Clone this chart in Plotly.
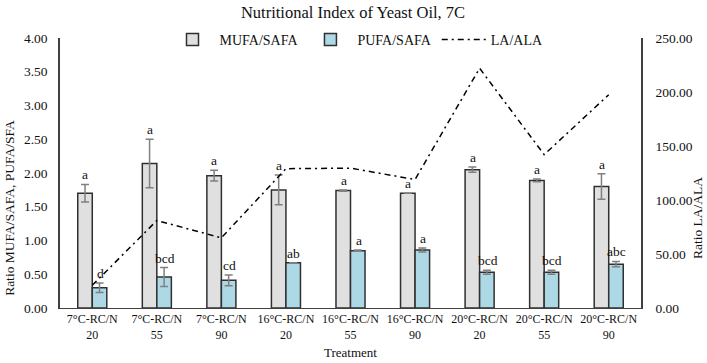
import plotly.graph_objects as go

categories = ["7°C-RC/N<br>20", "7°C-RC/N<br>55", "7°C-RC/N<br>90",
              "16°C-RC/N<br>20", "16°C-RC/N<br>55", "16°C-RC/N<br>90",
              "20°C-RC/N<br>20", "20°C-RC/N<br>55", "20°C-RC/N<br>90"]
mufa_safa = [1.70, 2.14, 1.96, 1.75, 1.74, 1.70, 2.05, 1.89, 1.80]
mufa_err = [0.13, 0.36, 0.08, 0.22, 0.01, 0.0, 0.04, 0.02, 0.19]
pufa_safa = [0.30, 0.46, 0.41, 0.67, 0.85, 0.86, 0.53, 0.53, 0.65]
pufa_err = [0.07, 0.14, 0.08, 0.0, 0.01, 0.03, 0.03, 0.03, 0.04]
la_ala = [21, 81, 65, 129, 129.5, 119, 222, 142, 197.5]
mufa_letters = ["a"] * 9
pufa_letters = ["d", "bcd", "cd", "ab", "a", "a", "bcd", "bcd", "abc"]

FONT = "Liberation Serif, Times New Roman, serif"
AX = "#404040"
TXT = "#111111"

fig = go.Figure()
fig.add_trace(go.Bar(
    x=categories, y=mufa_safa, name="MUFA/SAFA",
    marker=dict(color="#e0e0e0", line=dict(color="#303030", width=1.5)),
    error_y=dict(type="data", array=mufa_err, color="#808080", thickness=1.5, width=4),
))
fig.add_trace(go.Bar(
    x=categories, y=pufa_safa, name="PUFA/SAFA",
    marker=dict(color="#add8e6", line=dict(color="#303030", width=1.5)),
    error_y=dict(type="data", array=pufa_err, color="#808080", thickness=1.5, width=4),
))
fig.add_trace(go.Scatter(
    x=categories, y=la_ala, name="LA/ALA", yaxis="y2", mode="lines",
    line=dict(color="black", width=1.5, dash="6px,4px,2px,4px"),
))

annotations = []
for c, v, e, t in zip(categories, mufa_safa, mufa_err, mufa_letters):
    annotations.append(dict(x=c, y=v + e, text=t, showarrow=False, xshift=-7,
                            yanchor="bottom", yshift=0, font=dict(size=13.5, family=FONT, color=TXT)))
for c, v, e, t in zip(categories, pufa_safa, pufa_err, pufa_letters):
    annotations.append(dict(x=c, y=v + e, text=t, showarrow=False, xshift=8,
                            yanchor="bottom", yshift=0, font=dict(size=13.5, family=FONT, color=TXT)))

annotations += [
    dict(text="Ratio MUFA/SAFA, PUFA/SFA", xref="paper", yref="paper", x=-0.088, y=(308 - 208) / 270,
         textangle=-90, showarrow=False, xanchor="center", yanchor="middle",
         font=dict(size=13.5, family=FONT, color=TXT)),
    dict(text="Ratio LA/ALA", xref="paper", yref="paper", x=(697 - 60) / 581, y=(308 - 218) / 270,
         textangle=-90, showarrow=False, xanchor="center", yanchor="middle",
         font=dict(size=13.5, family=FONT, color=TXT)),
    dict(text="Treatment", xref="paper", yref="paper", x=(350 - 60) / 581, y=-(352 - 308) / 270,
         showarrow=False, xanchor="center", yanchor="middle",
         font=dict(size=13, family=FONT, color=TXT)),
]

fig.update_layout(
    width=707, height=363,
    margin=dict(l=60, r=66, t=38, b=55),
    paper_bgcolor="white", plot_bgcolor="white",
    font=dict(family=FONT, size=13, color=TXT),
    title=dict(text="Nutritional Index of Yeast Oil, 7C", x=353 / 707, xanchor="center",
               y=1 - 12 / 363, yanchor="middle", font=dict(size=16.5, family=FONT, color=TXT)),
    barmode="group", bargap=0.55, bargroupgap=0,
    showlegend=True,
    legend=dict(orientation="h", x=(357 - 60) / 581, xanchor="center", y=(308 - 40) / 270, yanchor="middle",
                font=dict(size=14, family=FONT, color=TXT), bgcolor="rgba(0,0,0,0)", itemwidth=44),
    xaxis=dict(showline=True, linecolor=AX, linewidth=1, showgrid=False, ticks="",
               tickfont=dict(size=12, family=FONT, color=TXT)),
    yaxis=dict(range=[0, 4], dtick=0.5, tickformat=".2f", showline=True, linecolor=AX, linewidth=1.5,
               showgrid=False, zeroline=False, ticks="", ticklabelstandoff=8,
               tickfont=dict(size=13.5, family=FONT, color=TXT)),
    yaxis2=dict(range=[0, 250], dtick=50, tickformat=".2f", overlaying="y", side="right",
                showline=True, linecolor=AX, linewidth=1.5, showgrid=False, zeroline=False, ticks="",
                ticklabelstandoff=10, tickfont=dict(size=13.5, family=FONT, color=TXT)),
    annotations=annotations,
)

fig.write_html("out.html")
